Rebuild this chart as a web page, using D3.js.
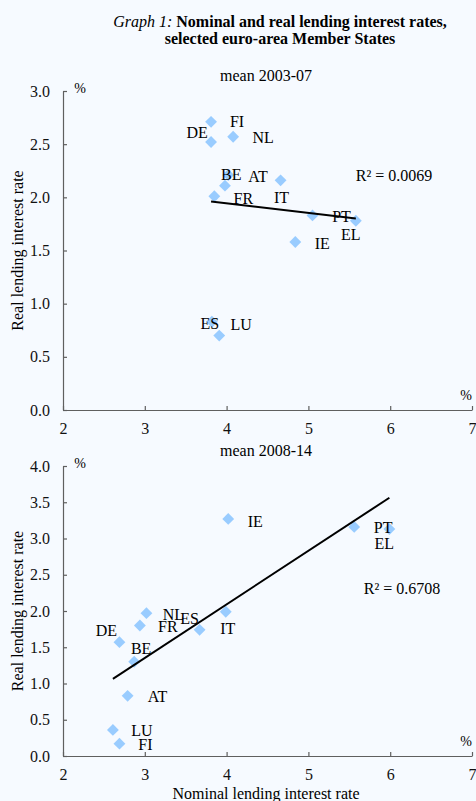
<!DOCTYPE html>
<html>
<head>
<meta charset="utf-8">
<script src="https://cdn.jsdelivr.net/npm/d3@7"></script>
<style>
  body { margin: 0; background: #f6faff; }
  svg { display: block; font-family: "Liberation Serif", "Times New Roman", serif; }
  .axis path, .axis line { stroke: #5f5f5f; stroke-width: 1.2; }
  .axis text { font-family: "Liberation Serif", serif; font-size: 16px; fill: #111; }
</style>
</head>
<body>
<svg id="chart"></svg>
<script>
// values (nominal = x, real = y)
var countries1 = ["FI", "DE", "NL", "BE", "AT", "FR", "IT", "PT", "EL", "IE", "ES", "LU"];
var nominal1   = [3.81, 3.81, 4.08, 4.02, 3.98, 3.85, 4.66, 5.05, 5.58, 4.84, 3.82, 3.91];
var real1      = [2.71, 2.52, 2.57, 2.21, 2.11, 2.01, 2.16, 1.83, 1.78, 1.58, 0.83, 0.70];

var countries2 = ["IE", "PT", "EL", "IT", "ES", "NL", "FR", "DE", "BE", "AT", "LU", "FI"];
var nominal2   = [4.02, 5.56, 5.99, 3.99, 3.67, 3.02, 2.94, 2.69, 2.87, 2.79, 2.61, 2.69];
var real2      = [3.27, 3.16, 3.13, 1.99, 1.74, 1.97, 1.80, 1.57, 1.30, 0.83, 0.36, 0.17];

var xTicks  = [2, 3, 4, 5, 6, 7];
var yTicks1 = [0, 0.5, 1, 1.5, 2, 2.5, 3];
var yTicks2 = [0, 0.5, 1, 1.5, 2, 2.5, 3, 3.5, 4];

var r2Text = ["R\u00b2 = 0.0069", "R\u00b2 = 0.6708"];
var panelTitles = ["mean 2003-07", "mean 2008-14"];

// where the data labels sit relative to their marker (px)
var labelOffsets1 = {FI:[26,0], DE:[-14,-10], NL:[30,1], BE:[3,-1], AT:[33,-9], FR:[29,2],
                     IT:[1,17], PT:[29,1], EL:[-5,14], IE:[27,1], ES:[-2,2], LU:[22,-11]};
var labelOffsets2 = {IE:[27,2], PT:[29,0], EL:[-5,14], IT:[2,17], ES:[-10,-11], NL:[27,1],
                     FR:[28,1], DE:[-13,-12], BE:[7,-13], AT:[30,1], LU:[29,0], FI:[26,1]};

var width = 476, height = 801;

var svg = d3.select("#chart")
    .attr("width", width)
    .attr("height", height);

svg.append("rect")
    .attr("width", width)
    .attr("height", height)
    .attr("fill", "#f6faff");

// title
var title = svg.append("text")
    .attr("x", 280)
    .attr("y", 27)
    .attr("text-anchor", "middle")
    .style("font-size", "16px");
title.append("tspan").style("font-style", "italic").text("Graph 1: ");
title.append("tspan").style("font-weight", "bold").text("Nominal and real lending interest rates,");

svg.append("text")
    .attr("x", 280)
    .attr("y", 44)
    .attr("text-anchor", "middle")
    .style("font-size", "16px")
    .style("font-weight", "bold")
    .text("selected euro-area Member States");

var x = d3.scaleLinear().domain([2, 7]).range([63, 472]);

function drawPanel(opts) {
  var y = d3.scaleLinear().domain([0, d3.max(opts.yTicks)]).range([opts.bottom, opts.top]);
  var data = opts.countries.map(function(c, i) {
    return {name: c, x: opts.nominal[i], y: opts.real[i]};
  });

  svg.append("text")
      .attr("x", 266)
      .attr("y", opts.top - 10)
      .attr("text-anchor", "middle")
      .style("font-size", "16px")
      .text(opts.title);

  svg.append("g")
      .attr("class", "axis")
      .attr("transform", "translate(" + x(2) + ",0)")
      .call(d3.axisLeft(y).tickValues(opts.yTicks).tickSize(-4).tickSizeOuter(0)
              .tickPadding(13).tickFormat(d3.format(".1f")));

  svg.append("g")
      .attr("class", "axis")
      .attr("transform", "translate(0," + opts.bottom + ")")
      .call(d3.axisBottom(x).tickValues(xTicks).tickSize(-4).tickSizeOuter(0)
              .tickPadding(13).tickFormat(d3.format("d")));

  svg.selectAll(".domain").attr("stroke", "#5f5f5f");

  // "%" unit markers
  svg.append("text")
      .attr("x", x(2) + 17)
      .attr("y", opts.top + 2)
      .style("font-size", "14px")
      .attr("text-anchor", "middle")
      .text("%");
  svg.append("text")
      .attr("x", 466)
      .attr("y", opts.bottom - 10)
      .style("font-size", "14px")
      .attr("text-anchor", "middle")
      .text("%");

  svg.append("text")
      .attr("transform", "translate(17," + ((opts.top + opts.bottom) / 2) + ") rotate(-90)")
      .attr("text-anchor", "middle")
      .attr("dy", "0.35em")
      .style("font-size", "16px")
      .text("Real lending interest rate");

  // markers
  svg.selectAll(null)
      .data(data)
      .enter().append("path")
      .attr("d", d3.symbol().type(d3.symbolSquare).size(70))
      .attr("fill", "#99ccff")
      .attr("transform", function(d) { return "translate(" + x(d.x) + "," + y(d.y) + ") rotate(45)"; });

  // least squares trend line
  var mx = d3.mean(data, function(d) { return d.x; });
  var my = d3.mean(data, function(d) { return d.y; });
  var sxy = d3.sum(data, function(d) { return (d.x - mx) * (d.y - my); });
  var sxx = d3.sum(data, function(d) { return (d.x - mx) * (d.x - mx); });
  var slope = sxy / sxx, icpt = my - slope * mx;
  var ext = d3.extent(data, function(d) { return d.x; });

  svg.append("line")
      .attr("x1", x(ext[0])).attr("y1", y(icpt + slope * ext[0]))
      .attr("x2", x(ext[1])).attr("y2", y(icpt + slope * ext[1]))
      .attr("stroke", "#000")
      .attr("stroke-width", 2);

  svg.selectAll(null)
      .data(data)
      .enter().append("text")
      .attr("x", function(d) { return x(d.x) + opts.offsets[d.name][0]; })
      .attr("y", function(d) { return y(d.y) + opts.offsets[d.name][1]; })
      .attr("dy", "0.35em")
      .attr("text-anchor", "middle")
      .style("font-size", "16px")
      .text(function(d) { return d.name; });

  svg.append("text")
      .attr("x", opts.r2x)
      .attr("y", opts.r2y)
      .attr("dy", "0.35em")
      .attr("text-anchor", "middle")
      .style("font-size", "16px")
      .text(opts.r2);
}

drawPanel({countries: countries1, nominal: nominal1, real: real1, yTicks: yTicks1,
           top: 91, bottom: 410, title: panelTitles[0], offsets: labelOffsets1,
           r2: r2Text[0], r2x: 394, r2y: 175});

drawPanel({countries: countries2, nominal: nominal2, real: real2, yTicks: yTicks2,
           top: 466, bottom: 756, title: panelTitles[1], offsets: labelOffsets2,
           r2: r2Text[1], r2x: 402, r2y: 588});

svg.append("text")
    .attr("x", 266)
    .attr("y", 799)
    .attr("text-anchor", "middle")
    .style("font-size", "16px")
    .text("Nominal lending interest rate");
</script>
</body>
</html>
